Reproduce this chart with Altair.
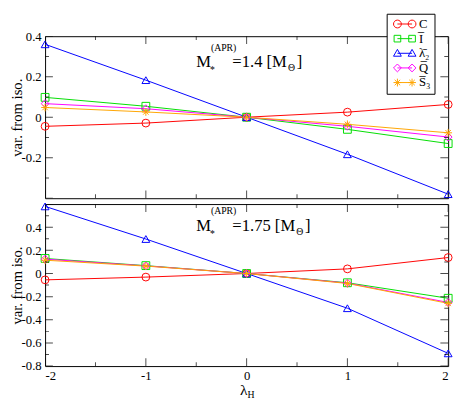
import altair as alt
import pandas as pd

# ---------------- data ----------------
lam = [-2, -1, 0, 1, 2]
series_keys = ["C", "I", "L2", "Q", "S3"]
series_labels = ["C", "I\u0305", "\u03bb\u0304\u2082", "Q\u0305", "S\u0305\u2083"]
colors = ["#ff0000", "#00dd00", "#0000ff", "#ff00ff", "#ffa500"]

# M = 1.4 Msun
top_C = [-0.045, -0.029, 0.0, 0.025, 0.063]
top_I = [0.098, 0.054, 0.0, -0.060, -0.130]
top_L2 = [0.360, 0.183, 0.0, -0.183, -0.380]
top_Q = [0.067, 0.042, 0.0, -0.045, -0.098]
top_S3 = [0.048, 0.026, 0.0, -0.035, -0.077]

# M = 1.75 Msun
bot_C = [-0.055, -0.031, 0.0, 0.040, 0.138]
bot_I = [0.130, 0.068, 0.0, -0.080, -0.214]
bot_L2 = [0.580, 0.298, 0.0, -0.300, -0.690]
bot_Q = [0.124, 0.066, 0.0, -0.083, -0.250]
bot_S3 = [0.115, 0.064, 0.0, -0.086, -0.258]

x_major = [-2, -1, 0, 1, 2]
x_minor = [-1.5, -0.5, 0.5, 1.5]
top_y_major = [-0.4, -0.2, 0.0, 0.2, 0.4]
top_y_minor = [-0.3, -0.1, 0.1, 0.3]
top_y_labels = [-0.2, 0.0, 0.2, 0.4]
bot_y_major = [-0.8, -0.6, -0.4, -0.2, 0.0, 0.2, 0.4, 0.6]
bot_y_minor = [-0.7, -0.5, -0.3, -0.1, 0.1, 0.3, 0.5]
bot_y_labels = [-0.8, -0.6, -0.4, -0.2, 0.0, 0.2, 0.4]

top_mass = "1.4"
bot_mass = "1.75"

W, H = 413, 166
FONT = "Liberation Serif"
LABEL_SIZE = 13
TITLE_SIZE = 15

# ---------------- helpers ----------------
def long_df(vals):
    rows = []
    for key, ys in zip(series_keys, vals):
        for xv, yv in zip(lam, ys):
            rows.append({"lam": xv, "val": yv, "series": key})
    return pd.DataFrame(rows)


def tick_df(major, minor):
    return pd.DataFrame(
        [{"pos": p, "len": 16} for p in major] + [{"pos": p, "len": 8} for p in minor]
    )


def circ(cx, r):
    return f"M{cx + r},0A{r},{r} 0 1 1 {cx - r},0A{r},{r} 0 1 1 {cx + r},0"


def leg_path(kind):
    a, r = 1.5, 0.8
    line = f"M{-a},0L{a},0"
    s = r * 0.85
    if kind == "C":
        m = circ(-a, r) + circ(a, r)
    elif kind == "I":
        m = "".join(f"M{c - s},{-s}L{c + s},{-s}L{c + s},{s}L{c - s},{s}Z" for c in (-a, a))
    elif kind == "L2":
        m = "".join(f"M{c},{-r}L{c + r},{r * 0.75}L{c - r},{r * 0.75}Z" for c in (-a, a))
    elif kind == "Q":
        m = "".join(f"M{c},{-r}L{c + r},0L{c},{r}L{c - r},0Z" for c in (-a, a))
    else:
        m = "".join(
            f"M{c},{-r}L{c},{r}M{c - r},0L{c + r},0M{c - r * 0.7},{-r * 0.7}L{c + r * 0.7},{r * 0.7}M{c - r * 0.7},{r * 0.7}L{c + r * 0.7},{-r * 0.7}"
            for c in (-a, a)
        )
    return line + m


asterisk = "M0,-1L0,1M-1,0L1,0M-0.7,-0.7L0.7,0.7M-0.7,0.7L0.7,-0.7"
marker_shapes = ["circle", "square", "triangle-up", "diamond", asterisk]
legend_shapes = [leg_path(k) for k in series_keys]

label_expr = ""
for k, lab in zip(series_keys[:-1], series_labels[:-1]):
    label_expr += f"datum.value === '{k}' ? '{lab}' : "
label_expr += f"'{series_labels[-1]}'"

cscale = alt.Scale(domain=series_keys, range=colors)
lscale = alt.Scale(domain=series_keys, range=legend_shapes)
xscale = alt.Scale(domain=[-2, 2], nice=False, zero=False)


def make_legend():
    return alt.Legend(
        title=None, orient="none", legendX=350, legendY=-23,
        strokeColor="black", fillColor="white", padding=4,
        symbolSize=100, symbolStrokeWidth=1, symbolOffset=8,
        symbolFillColor="transparent", symbolOpacity=1,
        labelOffset=8, rowPadding=1, labelFont=FONT, labelFontSize=13,
        labelColor="black", labelExpr=label_expr, cornerRadius=0,
    )


def panel(vals, ydom, ymaj, ymin, ylabels, mass, text_y, bottom, legend):
    df = long_df(vals)
    yscale = alt.Scale(domain=ydom, nice=False, zero=False)
    yaxis = alt.Axis(
        values=ylabels,
        labelExpr="datum.value == 0 ? '0' : toString(datum.value)",
        ticks=False, domain=False, grid=False, labelOverlap=False,
        labelFont=FONT, labelFontSize=LABEL_SIZE, labelColor="black",
        title="var. from iso.", labelPadding=4, titlePadding=-3,
        titleFont=FONT, titleFontSize=TITLE_SIZE, titleFontWeight="normal", titleColor="black",
    )
    if bottom:
        xaxis = alt.Axis(
            values=x_major, labelExpr="toString(datum.value)",
            ticks=False, domain=False, grid=False, title=None, labelPadding=4,
            labelOverlap=False, labelFont=FONT, labelFontSize=LABEL_SIZE, labelColor="black",
        )
    else:
        xaxis = None

    def X(f):
        return alt.X(f, scale=xscale, axis=xaxis)

    def Y(f):
        return alt.Y(f, scale=yscale, axis=yaxis)

    def XD(v):
        return alt.XDatum(v, scale=xscale, axis=xaxis)

    def YD(v):
        return alt.YDatum(v, scale=yscale, axis=yaxis)

    leg = make_legend() if legend else None

    base = alt.Chart(df)
    lines = base.mark_line(strokeWidth=1).encode(
        x=X("lam:Q"), y=Y("val:Q"),
        color=alt.Color("series:N", scale=cscale, legend=leg),
    )
    point_layers = []
    for key, col, shp in zip(series_keys, colors, marker_shapes):
        point_layers.append(
            base.transform_filter(alt.datum.series == key)
            .mark_point(filled=False, size=64, strokeWidth=1, shape=shp, color=col, opacity=1)
            .encode(x=X("lam:Q"), y=Y("val:Q"))
        )
    layers = [lines] + point_layers

    if legend:
        leg_layer = base.transform_filter("false").mark_point(filled=False, strokeWidth=1).encode(
            x=X("lam:Q"), y=Y("val:Q"),
            color=alt.Color("series:N", scale=cscale, legend=make_legend()),
            shape=alt.Shape("series:N", scale=lscale, legend=make_legend()),
        )
        layers.append(leg_layer)

    xt = alt.Chart(tick_df(x_major, x_minor))
    yt = alt.Chart(tick_df(ymaj, ymin))
    sz = alt.Size("len:Q", scale=None, legend=None)
    layers += [
        xt.mark_tick(orient="vertical", clip=True, color="black", thickness=1).encode(x=X("pos:Q"), y=alt.value(H), size=sz),
        xt.mark_tick(orient="vertical", clip=True, color="black", thickness=1).encode(x=X("pos:Q"), y=alt.value(0), size=sz),
        yt.mark_tick(orient="horizontal", clip=True, color="black", thickness=1).encode(y=Y("pos:Q"), x=alt.value(0), size=sz),
        yt.mark_tick(orient="horizontal", clip=True, color="black", thickness=1).encode(y=Y("pos:Q"), x=alt.value(W), size=sz),
    ]

    # annotation M_*^(APR)=m [M_Θ]
    tx, ty = -0.5, text_y
    main = "=" + mass + " [M"

    def txt(t, dx, dy, size):
        return alt.Chart(pd.DataFrame({"t": [t]})).mark_text(
            align="left", baseline="alphabetic", dx=dx, dy=dy,
            font=FONT, fontSize=size, color="black",
        ).encode(x=XD(tx), y=YD(ty), text="t:N")

    extra = 8.5 if mass == "1.75" else 0
    layers += [
        txt("M", 0, 0, 17),
        txt("*", 14, 6, 10),
        txt("(APR)", 15, -17, 10),
        txt(main, 37, 0, 17),
        txt("\u0398", 94 + extra, 4, 10),
        txt("]", 103 + extra, 0, 17),
    ]

    if bottom:
        lx = alt.Chart(pd.DataFrame({"t": ["\u03bb"]})).mark_text(
            align="right", baseline="alphabetic", dx=1, font=FONT, fontSize=16, color="black"
        ).encode(x=XD(0), y=alt.value(H + 30), text="t:N")
        lh = alt.Chart(pd.DataFrame({"t": ["H"]})).mark_text(
            align="left", baseline="alphabetic", dx=1, font=FONT, fontSize=10, color="black"
        ).encode(x=XD(0), y=alt.value(H + 33), text="t:N")
        layers += [lx, lh]
    return alt.layer(*layers).properties(width=W, height=H)


top = panel([top_C, top_I, top_L2, top_Q, top_S3], [-0.4, 0.4], top_y_major, top_y_minor,
            top_y_labels, top_mass, 0.246, False, True)
bot = panel([bot_C, bot_I, bot_L2, bot_Q, bot_S3], [-0.8, 0.6], bot_y_major, bot_y_minor,
            bot_y_labels, bot_mass, 0.368, True, False)

chart = (
    alt.vconcat(top, bot, spacing=0, padding=0, background="white")
    .resolve_scale(color="independent", shape="independent", y="independent")
    .resolve_legend(color="independent", shape="independent")
    .configure_view(stroke="black", strokeWidth=1)
    .configure_axis(labelFont=FONT, labelFontSize=LABEL_SIZE, labelColor="black",
                    titleFont=FONT, titleFontSize=TITLE_SIZE, titleFontWeight="normal", titleColor="black")
)

chart.save("out.html", embed_options={"renderer": "svg", "actions": False})
